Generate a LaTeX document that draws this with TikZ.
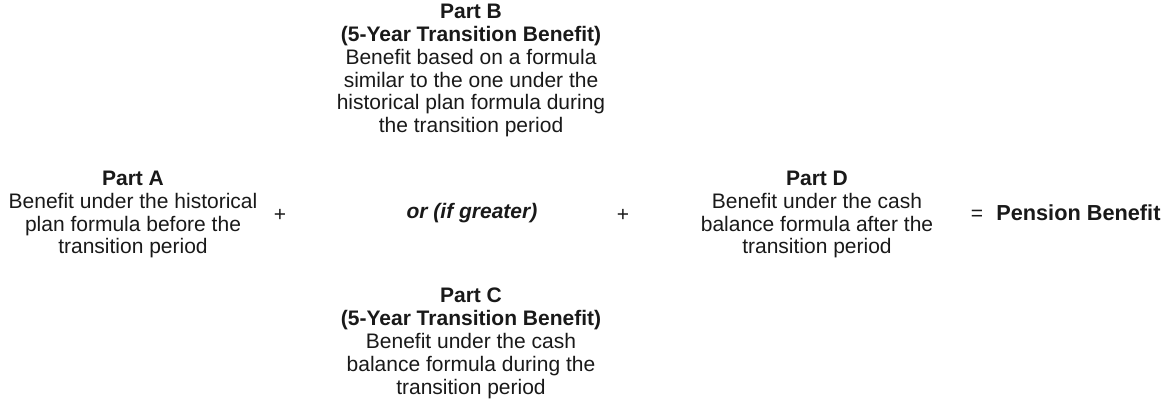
\documentclass[tikz,border=0pt]{standalone}
\usepackage{fontspec}
\setmainfont{Liberation Sans}
\usepackage{tikz}

\begin{document}
\begin{tikzpicture}[x=0.75pt,y=-0.75pt,
        part/.style={align=center,text=black!90,inner sep=0pt,
            font=\fontsize{15.75}{17.2}\selectfont},
        op/.style={text=black!90,inner sep=0pt,font=\fontsize{15.75}{17.2}\selectfont}]
        \useasboundingbox (0,0) rectangle (1168,410);
        % left term
        \node[part] (partA) at (133,214.5) {\textbf{Part A}\\Benefit under the historical\\plan formula before the\\transition period};
        \node[op] (plusA) at (280,215) {+};
        % the two alternatives
        \node[part] (partB) at (471,70.5) {\textbf{Part B}\\\textbf{(5-Year Transition Benefit)}\\Benefit based on a formula\\similar to the one under the\\historical plan formula during\\the transition period};
        \node[op] (orgreater) at (472,213) {\textbf{\textit{or (if greater)}}};
        \node[part] (partC) at (471,343.5) {\textbf{Part C}\\\textbf{(5-Year Transition Benefit)}\\Benefit under the cash\\balance formula during the\\transition period};
        \node[op] (plusD) at (623,215) {+};
        % right term and total
        \node[part] (partD) at (817,214.5) {\textbf{Part D}\\Benefit under the cash\\balance formula after the\\transition period};
        \node[op] (eq) at (977,215) {=};
        \node[op,anchor=west,font=\fontsize{16.3}{17.2}\selectfont] (total) at (996,213) {\textbf{Pension Benefit}};
    \end{tikzpicture}
\end{document}
